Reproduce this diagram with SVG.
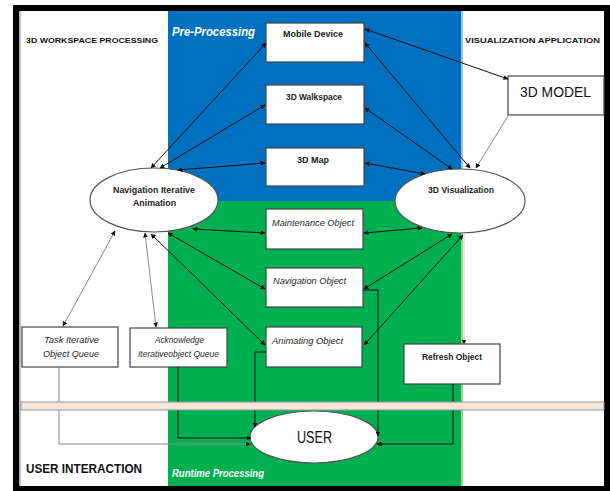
<svg xmlns="http://www.w3.org/2000/svg" width="610" height="491" viewBox="0 0 610 491">
  <style>
    .lbl { font-family: "Liberation Sans", Arial, sans-serif; font-size: 9px; fill: #1a1a1a; }
    .b { font-weight: bold; }
    .it { font-style: italic; fill: #262626; }
    .hdr { font-family: "Liberation Sans", Arial, sans-serif; font-size: 8px; font-weight: bold; fill: #111; }
    .lane { font-family: "Liberation Sans", Arial, sans-serif; font-style: italic; font-weight: bold; fill: #fff; }
    .box { fill: #fff; stroke: #444; stroke-width: 1.2; }
    .ell { fill: #fff; stroke: #555; stroke-width: 1.2; }
    .ln { fill: none; stroke: #111; stroke-width: 1; }
    .gr { fill: none; stroke: #888; stroke-width: 1; }
    .lt { fill: none; stroke: #ddd; stroke-width: 1.5; }
  </style>
  <defs>
    <marker id="ah" viewBox="0 0 10 10" refX="9" refY="5" markerWidth="5" markerHeight="5" orient="auto-start-reverse" markerUnits="userSpaceOnUse">
      <path d="M0,0 L10,5 L0,10 Z" fill="#111"/>
    </marker>
  </defs>

  <!-- lanes -->
  <g id="background">
    <rect x="19" y="11" width="585" height="475" fill="#fff"/>
    <rect x="19" y="11" width="2" height="475" fill="#bbb"/>
    <rect x="168" y="11" width="293" height="190" fill="#0070c0"/>
    <rect x="168" y="201" width="293" height="285" fill="#00b050"/>
    <rect x="461" y="11" width="2" height="190" fill="#9dc3e6"/>
    <rect x="461" y="201" width="2" height="285" fill="#a9d18e"/>
    <path d="M13,5 H610 V491 H13 Z M19,11 V486 H604 V11 Z" fill="#000" fill-rule="evenodd"/>
    <text class="hdr" x="26" y="43" textLength="132" lengthAdjust="spacingAndGlyphs">3D WORKSPACE PROCESSING</text>
    <text class="hdr" x="465" y="43" textLength="135" lengthAdjust="spacingAndGlyphs">VISUALIZATION APPLICATION</text>
    <text class="lane" x="172" y="36" font-size="13" textLength="83" lengthAdjust="spacingAndGlyphs">Pre-Processing</text>
    <text class="lane" x="172" y="477" font-size="10" textLength="92" lengthAdjust="spacingAndGlyphs">Runtime Processing</text>
    <text x="26" y="473" font-family="Liberation Sans, Arial, sans-serif" font-size="12" font-weight="bold" fill="#111" textLength="116" lengthAdjust="spacingAndGlyphs">USER  INTERACTION</text>
  </g>

  <!-- nodes -->
  <g id="mobile-device">
    <rect class="box" x="266" y="23" width="98" height="39"/>
    <text class="lbl b" x="283" y="37" textLength="60" lengthAdjust="spacingAndGlyphs">Mobile Device</text>
  </g>
  <g id="walkspace">
    <rect class="box" x="266" y="85" width="98" height="39"/>
    <text class="lbl b" x="286" y="100" textLength="56" lengthAdjust="spacingAndGlyphs">3D Walkspace</text>
  </g>
  <g id="map">
    <rect class="box" x="266" y="148" width="98" height="38"/>
    <text class="lbl b" x="297" y="163" textLength="32" lengthAdjust="spacingAndGlyphs">3D Map</text>
  </g>
  <g id="model">
    <rect class="box" x="508" y="76" width="96" height="39" stroke="#999"/>
    <text x="520" y="97" font-family="Liberation Sans, Arial, sans-serif" font-size="14" fill="#111" textLength="71" lengthAdjust="spacingAndGlyphs">3D MODEL</text>
  </g>
  <g id="nav-iterative">
    <ellipse class="ell" cx="154" cy="200" rx="64" ry="32"/>
    <text class="lbl b" x="113" y="193" textLength="82" lengthAdjust="spacingAndGlyphs">Navigation Iterative</text>
    <text class="lbl b" x="133" y="206" textLength="43" lengthAdjust="spacingAndGlyphs">Animation</text>
  </g>
  <g id="visualization">
    <ellipse class="ell" cx="460" cy="201" rx="65" ry="32"/>
    <text class="lbl b" x="428" y="193" textLength="66" lengthAdjust="spacingAndGlyphs">3D Visualization</text>
  </g>
  <g id="maintenance">
    <rect class="box" x="266" y="209" width="97" height="40"/>
    <text class="lbl it" x="272" y="226" textLength="82" lengthAdjust="spacingAndGlyphs">Maintenance Object</text>
  </g>
  <g id="navigation">
    <rect class="box" x="266" y="268" width="97" height="39"/>
    <text class="lbl it" x="273" y="284" textLength="73" lengthAdjust="spacingAndGlyphs">Navigation Object</text>
  </g>
  <g id="animating">
    <rect class="box" x="266" y="327" width="96" height="40"/>
    <text class="lbl it" x="272" y="344" textLength="71" lengthAdjust="spacingAndGlyphs">Animating Object</text>
  </g>
  <g id="task-queue">
    <rect class="box" x="22" y="327" width="96" height="40"/>
    <text class="lbl it" x="44" y="343" textLength="55" lengthAdjust="spacingAndGlyphs">Task Iterative</text>
    <text class="lbl it" x="43" y="357" textLength="56" lengthAdjust="spacingAndGlyphs">Object Queue</text>
  </g>
  <g id="ack-queue">
    <rect class="box" x="130" y="328" width="97" height="39"/>
    <text class="lbl it" x="155" y="343" textLength="49" lengthAdjust="spacingAndGlyphs">Acknowledge</text>
    <text class="lbl it" x="138" y="357" textLength="81" lengthAdjust="spacingAndGlyphs">Iterativeobject Queue</text>
  </g>
  <g id="refresh">
    <rect class="box" x="404" y="344" width="96" height="40"/>
    <text class="lbl b" x="422" y="360" textLength="60" lengthAdjust="spacingAndGlyphs">Refresh Object</text>
  </g>
  <g id="user">
    <ellipse class="ell" cx="314" cy="437" rx="64" ry="26"/>
    <text x="297" y="443" font-family="Liberation Sans, Arial, sans-serif" font-size="16" fill="#111" textLength="35" lengthAdjust="spacingAndGlyphs">USER</text>
  </g>

  <!-- connectors -->
  <g id="connectors" marker-end="url(#ah)">
    <path class="ln" d="M151,168 L266,43" marker-start="url(#ah)"/>
    <path class="ln" d="M160,168 L265,105" marker-start="url(#ah)"/>
    <path class="ln" d="M178,170 L265,163" marker-start="url(#ah)"/>
    <path class="ln" d="M193,229 L265,233" marker-start="url(#ah)"/>
    <path class="ln" d="M168,233 L265,289" marker-start="url(#ah)"/>
    <path class="ln" d="M151,234 L265,345" marker-start="url(#ah)"/>
    <path class="gr" d="M115,231 L63,326" marker-start="url(#ah)"/>
    <path class="gr" d="M145,233 L156,327" marker-start="url(#ah)"/>
    <path class="ln" d="M365,29 L508,79" marker-start="url(#ah)"/>
    <path class="ln" d="M365,43 L470,168" marker-start="url(#ah)"/>
    <path class="ln" d="M365,108 L452,169" marker-start="url(#ah)"/>
    <path class="ln" d="M365,163 L425,174" marker-start="url(#ah)"/>
    <path class="gr" d="M508,116 L476,168"/>
    <path class="ln" d="M364,233 L422,228" marker-start="url(#ah)"/>
    <path class="ln" d="M364,289 L452,234" marker-start="url(#ah)"/>
    <path class="ln" d="M364,345 L463,235" marker-start="url(#ah)"/>
    <path class="lt" d="M464,234 L464,344"/>
    <path class="gr" d="M59,367 V444 H250"/>
    <path class="ln" d="M178,367 V438 H251"/>
    <path class="ln" d="M266,352 H255 V427"/>
    <path class="ln" d="M363,290 H378 V436"/>
    <path class="ln" d="M453,384 V444 H377"/>
  </g>

  <!-- separator band -->
  <g id="separator">
    <rect x="21" y="402" width="583" height="8" fill="#fbe5d6" stroke="#8497b0" stroke-width="1"/>
  </g>
</svg>
